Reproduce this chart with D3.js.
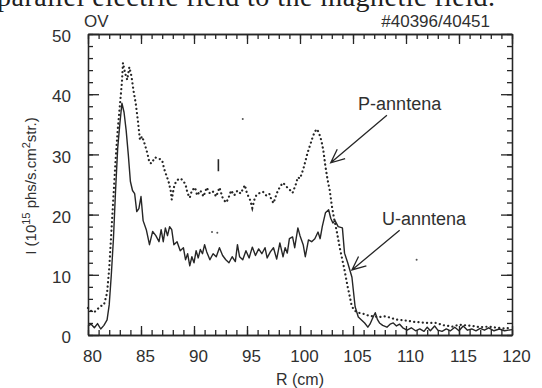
<!DOCTYPE html>
<html>
<head>
<meta charset="utf-8">
<script src="https://cdn.jsdelivr.net/npm/d3@7"></script>
<style>
  body { margin: 0; background: #fff; }
  svg { display: block; font-family: "Liberation Sans", Arial, sans-serif; }
  .axis path, .axis line { stroke: #262626; stroke-width: 1.3; }
  .axis text { fill: #303030; font-size: 17px; font-family: "Liberation Sans", Arial, sans-serif; }
</style>
</head>
<body>
<svg id="chart" width="542" height="388"></svg>
<script>
// U-antenna (solid): [R cm, intensity]
const uAntenna = [
  [80.0, 1.5], [80.3, 1.8], [80.6, 1.2], [80.9, 1.9], [81.2, 1.0], [81.5, 1.6], [81.8, 2.5],
  [82.0, 5], [82.2, 10], [82.4, 16], [82.6, 24], [82.8, 31], [83.0, 35], [83.2, 38.5],
  [83.4, 37], [83.6, 34], [83.8, 30], [84.0, 25.5], [84.2, 24], [84.4, 23.5], [84.6, 20.5],
  [84.8, 21], [85.0, 23], [85.2, 19], [85.5, 17.5], [85.8, 15], [86.1, 17.2], [86.4, 16.5],
  [86.7, 15.5], [86.9, 17.5], [87.1, 15.5], [87.3, 17.8], [87.5, 16.5], [87.7, 18], [87.9, 17.5],
  [88.1, 15], [88.4, 15.5], [88.7, 14], [89.0, 14.5], [89.2, 12.5], [89.4, 13.5], [89.6, 11.5],
  [89.8, 13], [90.0, 12], [90.2, 14], [90.4, 12.8], [90.6, 14.2], [90.8, 13.5], [91.0, 15],
  [91.2, 13.8], [91.5, 12.5], [91.8, 13.5], [92.1, 13], [92.4, 14.5], [92.7, 13.2], [93.0, 12.5],
  [93.3, 12], [93.6, 13], [93.9, 12.2], [94.1, 15], [94.3, 13], [94.6, 12.5], [94.9, 14],
  [95.2, 12.8], [95.5, 14.6], [95.8, 13.2], [96.1, 14.3], [96.4, 13.5], [96.7, 14.5], [96.9, 12.8],
  [97.2, 13.8], [97.5, 14.5], [97.8, 12.6], [98.1, 15.3], [98.4, 13], [98.6, 14.5], [98.8, 13.6],
  [99.0, 16], [99.3, 16.3], [99.5, 14.5], [99.8, 17.8], [100.0, 16.5], [100.3, 15], [100.5, 13],
  [100.8, 15.8], [101.1, 15.5], [101.4, 16], [101.7, 17.1], [101.9, 16], [102.1, 18], [102.4, 20.3],
  [102.7, 20.8], [102.9, 19.4], [103.1, 18.6], [103.3, 19], [103.6, 18], [104.0, 17.8], [104.2, 13.6],
  [104.5, 12], [104.9, 9.6], [105.2, 4.7], [105.5, 3], [105.8, 2.5], [106.1, 2], [106.4, 1.3],
  [106.6, 1.8], [106.9, 3], [107.1, 3.7], [107.3, 2.6], [107.5, 2], [107.8, 1.6], [108.2, 1.3],
  [108.5, 1.8], [108.8, 2], [109.1, 1.5], [109.4, 1.8], [109.7, 1.2], [110.1, 0.8], [110.5, 1.2],
  [110.9, 0.7], [111.3, 1.0], [111.7, 0.6], [112.0, 1.3], [112.3, 0.7], [112.7, 1.5], [113.0, 0.8],
  [113.4, 0.6], [113.8, 1.0], [114.2, 0.7], [114.6, 1.3], [115.0, 0.7], [115.4, 1.5], [115.8, 0.8],
  [116.2, 1.0], [116.6, 0.7], [117.0, 1.1], [117.4, 0.8], [117.8, 1.2], [118.3, 0.7], [118.8, 1.0],
  [119.3, 0.7], [120.0, 0.9]
];

// P-antenna (dotted): [R cm, intensity]
const pAntenna = [
  [80.0, 4.5], [80.3, 4.0], [80.6, 3.8], [80.9, 4.3], [81.2, 4.8], [81.5, 5.0], [81.8, 7],
  [82.0, 11], [82.2, 17], [82.4, 23], [82.6, 29], [82.8, 34], [83.0, 38], [83.2, 42],
  [83.3, 45.2], [83.5, 43.5], [83.7, 42.4], [83.9, 44.5], [84.1, 43], [84.3, 40.5], [84.5, 38.5],
  [84.7, 35.7], [84.9, 32.4], [85.1, 33], [85.3, 32], [85.6, 30.2], [85.8, 28.6], [86.0, 28.5],
  [86.3, 29.5], [86.7, 29.3], [87.0, 29], [87.2, 27.5], [87.4, 26.5], [87.6, 25.5], [87.8, 24],
  [87.9, 22.5], [88.1, 24.5], [88.3, 25.5], [88.6, 26], [88.9, 25.8], [89.2, 25], [89.4, 23.5],
  [89.6, 22.8], [89.8, 24], [90.1, 24.5], [90.3, 23.2], [90.6, 24], [90.9, 23], [91.2, 24.5],
  [91.5, 23.5], [91.8, 23.8], [92.1, 23], [92.4, 24.5], [92.7, 22.8], [93.0, 22], [93.2, 22.5],
  [93.5, 24], [93.8, 23.2], [94.1, 24], [94.4, 23.5], [94.8, 24.9], [95.0, 23.5], [95.3, 22.4],
  [95.5, 21.1], [95.7, 22.5], [95.9, 23.3], [96.2, 23.6], [96.5, 23.8], [96.8, 23.2], [97.1, 23.5],
  [97.3, 22.5], [97.5, 21.9], [97.8, 23.5], [98.1, 24.6], [98.4, 25.3], [98.8, 24.5], [99.1, 24],
  [99.3, 23.6], [99.6, 25], [99.8, 26.2], [100.0, 26], [100.3, 27.5], [100.5, 28.8], [100.7, 30.2],
  [101.0, 31.8], [101.2, 32.9], [101.4, 33.8], [101.6, 34.2], [101.8, 33.5], [102.0, 32.4], [102.2, 30.7],
  [102.4, 28], [102.6, 25.8], [102.8, 24.1], [103.0, 21.5], [103.2, 19.5], [103.5, 16.9], [103.8, 14.1],
  [104.2, 10.8], [104.5, 8], [104.9, 4.7], [105.2, 4.0], [105.5, 3.7], [106.0, 3.5], [106.5, 3.2],
  [107.0, 3.1], [107.5, 3.0], [108.0, 3.1], [108.5, 2.9], [109.0, 2.6], [109.5, 2.5], [110.0, 2.4],
  [110.7, 2.2], [111.4, 2.1], [112.0, 2.0], [112.8, 2.0], [113.6, 1.6], [114.4, 1.4], [115.0, 1.7],
  [115.7, 1.6], [116.3, 1.5], [117.0, 1.3], [117.8, 1.4], [118.6, 1.2], [119.3, 1.1], [120.0, 1.2]
];

// specks left by the scan
const specks = [[94.6, 35.9], [91.7, 17.1], [92.2, 17.0], [111.0, 12.5]];

const xTicks = [80, 85, 90, 95, 100, 105, 110, 115, 120];
const yTicks = [0, 10, 20, 30, 40, 50];

// annotations: label, label anchor [R, I], arrow tail [R, I], arrow tip [R, I]
const annotations = [
  { label: 'P-anntena', at: [109.4, 37.4], tail: [108.2, 36.5], tip: [102.9, 28.6] },
  { label: 'U-anntena', at: [111.7, 18.3], tail: [109.4, 17.4], tip: [104.9, 10.8] }
];

const svg = d3.select('#chart');
const x = d3.scaleLinear().domain([80, 120]).range([88, 512]);
const y = d3.scaleLinear().domain([0, 50]).range([335, 34]);
const ink = '#262626';

// cropped caption line from the page above
svg.append('text')
  .attr('x', -3).attr('y', 6)
  .attr('font-family', '"Liberation Serif", "Times New Roman", serif')
  .attr('font-size', 28)
  .attr('fill', '#202020')
  .attr('textLength', 498)
  .text('parallel electric field to the magnetic field.');

svg.append('text').attr('x', 84).attr('y', 27).attr('font-size', 17).attr('fill', '#303030').text('OV');
svg.append('text').attr('x', 490).attr('y', 27).attr('font-size', 17).attr('fill', '#303030')
  .attr('text-anchor', 'end').text('#40396/40451');

// axes with inward ticks
const minorX = d3.range(80, 121, 1);
const minorY = d3.range(0, 51, 2);

function addAxis(axis, transform, labelled) {
  const g = svg.append('g').attr('class', 'axis').attr('transform', transform).call(axis);
  if (!labelled) g.selectAll('text').remove();
  return g;
}

addAxis(d3.axisBottom(x).tickValues(minorX).tickSizeInner(-5).tickSizeOuter(0).tickFormat(''), 'translate(0,335)', false);
addAxis(d3.axisTop(x).tickValues(minorX).tickSizeInner(-5).tickSizeOuter(0).tickFormat(''), 'translate(0,34)', false);
addAxis(d3.axisLeft(y).tickValues(minorY).tickSizeInner(-5).tickSizeOuter(0).tickFormat(''), 'translate(88,0)', false);
addAxis(d3.axisRight(y).tickValues(minorY).tickSizeInner(-5).tickSizeOuter(0).tickFormat(''), 'translate(512,0)', false);

addAxis(d3.axisBottom(x).tickValues(xTicks).tickSizeInner(-9).tickSizeOuter(0).tickPadding(15), 'translate(0,335)', true)
  .selectAll('text').attr('dx', 4);
addAxis(d3.axisTop(x).tickValues(xTicks).tickSizeInner(-10).tickSizeOuter(0), 'translate(0,34)', false);
addAxis(d3.axisLeft(y).tickValues(yTicks).tickSizeInner(-11).tickSizeOuter(0).tickPadding(17), 'translate(88,0)', true)
  .selectAll('text').attr('dy', '0.45em');
addAxis(d3.axisRight(y).tickValues(yTicks).tickSizeInner(-11).tickSizeOuter(0), 'translate(512,0)', false);

svg.append('text')
  .attr('x', 300).attr('y', 385)
  .attr('text-anchor', 'middle').attr('font-size', 16).attr('fill', '#303030')
  .text('R (cm)');

const yTitle = svg.append('text')
  .attr('transform', 'translate(36,186) rotate(-90)')
  .attr('text-anchor', 'middle').attr('font-size', 15).attr('fill', '#303030');
yTitle.append('tspan').text('I (10');
yTitle.append('tspan').attr('font-size', 11).attr('dy', -6).text('15');
yTitle.append('tspan').attr('dy', 6).text(' phs/s.cm');
yTitle.append('tspan').attr('font-size', 11).attr('dy', -6).text('2');
yTitle.append('tspan').attr('dy', 6).text('str.)');

const line = d3.line().x(d => x(d[0])).y(d => y(d[1]));

svg.append('path').datum(pAntenna)
  .attr('d', line).attr('fill', 'none')
  .attr('stroke', ink).attr('stroke-width', 2.2)
  .attr('stroke-dasharray', '0.1,4.2').attr('stroke-linecap', 'round');

svg.append('path').datum(uAntenna)
  .attr('d', line).attr('fill', 'none')
  .attr('stroke', ink).attr('stroke-width', 1.4).attr('stroke-linejoin', 'round');

svg.selectAll('.speck').data(specks).join('circle')
  .attr('class', 'speck')
  .attr('cx', d => x(d[0])).attr('cy', d => y(d[1])).attr('r', 1)
  .attr('fill', '#555');
svg.append('line')
  .attr('x1', x(92.3)).attr('x2', x(92.3)).attr('y1', y(29.2)).attr('y2', y(27.2))
  .attr('stroke', ink).attr('stroke-width', 1.6);

// labelled arrows
annotations.forEach(a => {
  svg.append('text')
    .attr('x', x(a.at[0])).attr('y', y(a.at[1]))
    .attr('text-anchor', 'middle').attr('font-size', 18).attr('fill', '#303030')
    .text(a.label);
  const tx = x(a.tip[0]), ty = y(a.tip[1]);
  const sx = x(a.tail[0]), sy = y(a.tail[1]);
  const ang = Math.atan2(sy - ty, sx - tx);
  const len = 15, spread = 0.42;
  svg.append('path')
    .attr('d', `M${sx},${sy}L${tx},${ty}` +
      `M${tx + len * Math.cos(ang - spread)},${ty + len * Math.sin(ang - spread)}L${tx},${ty}` +
      `L${tx + len * Math.cos(ang + spread)},${ty + len * Math.sin(ang + spread)}`)
    .attr('fill', 'none').attr('stroke', ink).attr('stroke-width', 1.3);
});
</script>
</body>
</html>
